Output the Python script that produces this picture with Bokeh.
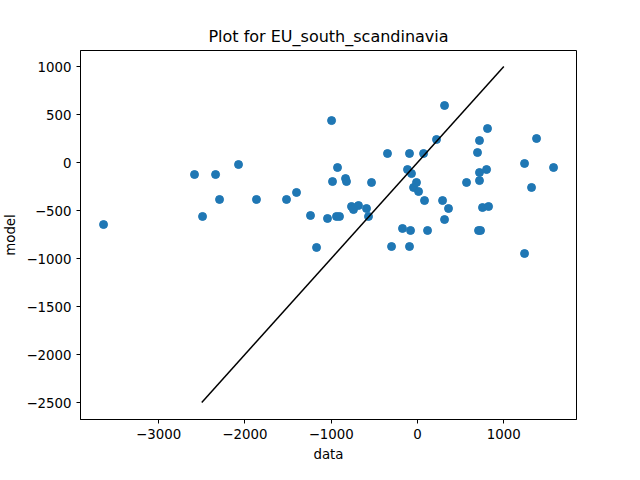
from bokeh.plotting import figure
from bokeh.models import Range1d, FixedTicker
from bokeh.embed import file_html
from bokeh.resources import INLINE

# scatter values
data_x = [-3638, -2584, -2491, -2340, -2294, -2074, -1866, -1518, -1402, -1240,
          -1170, -1043, -996, -985, -939, -927, -904, -834, -823, -765,
          -742, -684, -591, -568, -533, -348, -301, -174, -116, -93,
          -93, -81, -70, -46, -12, 12, 70, 81, 116, 220,
          290, 313, 313, 359, 568, 695, 707, 718, 718, 718,
          730, 753, 800, 811, 823, 1240, 1240, 1321, 1379, 1576]
model_y = [-646, -125, -562, -125, -385, -21, -385, -385, -312, -552,
           -885, -583, 437, -198, -562, -52, -562, -167, -198, -458,
           -490, -448, -479, -562, -208, 94, -875, -687, -73, 94,
           -875, -708, -115, -260, -208, -302, 94, -396, -708, 240,
           -396, 594, -594, -479, -208, 104, -708, 229, -104, -188,
           -708, -469, -73, 354, -458, -10, -948, -260, 250, -52]
line_x = [-2500, 1000]
line_y = [-2500, 1000]

p = figure(width=624, height=464, title="Plot for EU_south_scandinavia",
           x_axis_label="data", y_axis_label="model",
           output_backend="svg", toolbar_location=None,
           min_border_left=72, min_border_right=48,
           min_border_top=50, min_border_bottom=41)
p.x_range = Range1d(-3905, 1842)
p.y_range = Range1d(-2677, 1167)

p.scatter(data_x, model_y, size=8, color="#1f77b4")
p.line(line_x, line_y, line_color="black", line_width=1.5)

p.xaxis.ticker = FixedTicker(ticks=[-3000, -2000, -1000, 0, 1000])
p.yaxis.ticker = FixedTicker(ticks=[-2500, -2000, -1500, -1000, -500, 0, 500, 1000])
p.xgrid.visible = False
p.ygrid.visible = False
p.outline_line_color = "black"
p.title.align = "center"
p.title.text_font = "DejaVu Sans"
p.title.text_font_size = "12pt"
p.title.text_font_style = "normal"
p.title.text_color = "black"
for ax in (p.xaxis, p.yaxis):
    ax.axis_label_text_font = "DejaVu Sans"
    ax.axis_label_text_font_style = "normal"
    ax.axis_label_text_font_size = "10pt"
    ax.axis_label_text_color = "black"
    ax.major_label_text_font = "DejaVu Sans"
    ax.major_label_text_font_size = "10pt"
    ax.major_label_text_color = "black"
    ax.axis_line_color = "black"
    ax.major_tick_line_color = "black"
    ax.minor_tick_line_color = None
    ax.major_tick_out = 4
    ax.major_tick_in = 0

open("out.html", "w").write(file_html(p, INLINE))
